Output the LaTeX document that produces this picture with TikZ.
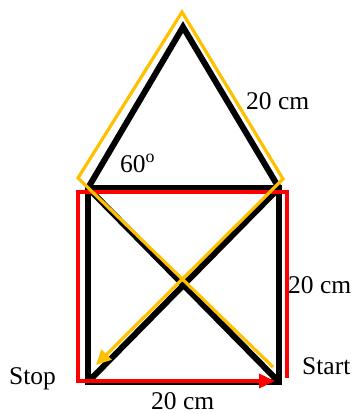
\documentclass[tikz,border=0pt]{standalone}
\usepackage{fontspec}
\setmainfont{Liberation Serif}
\usetikzlibrary{arrows.meta}
\definecolor{yellowc}{HTML}{FFC000}
\definecolor{redc}{HTML}{FF0000}
\begin{document}
\begin{tikzpicture}[x=1pt,y=-1pt,
  houseline/.style={line width=6pt, draw=black, line join=miter},
  yellowpath/.style={line width=3.2pt, draw=yellowc, line join=miter},
  redpath/.style={line width=3.5pt, draw=redc, line join=miter},
  lbl/.style={inner sep=0pt, anchor=base west, font=\fontsize{25.5}{30}\selectfont}]
\useasboundingbox (0,0) rectangle (356,414);
% black house
\coordinate (apex) at (183,27);
\coordinate (TL) at (88,188);
\coordinate (TR) at (279,188);
\coordinate (BR) at (279,382);
\coordinate (BL) at (88,382);
\draw[houseline] (TL) -- (TR) -- (BR) -- (BL) -- cycle;
\draw[houseline] (TL) -- (apex) -- (TR);
\draw[houseline] (TL) -- (BR);
\draw[houseline] (TR) -- (BL);
% red path
\coordinate (R1) at (287,378);
\coordinate (R2) at (287,192);
\coordinate (R3) at (78,192);
\coordinate (R4) at (78,381);
\coordinate (R5) at (275,381);
\draw[redpath, -{Triangle[length=16pt,width=14pt]}] (R1) -- (R2) -- (R3) -- (R4) -- (R5);
% yellow path
\coordinate (Y1) at (273,367);
\coordinate (Y2) at (78,178);
\coordinate (Y3) at (182,12);
\coordinate (Y4) at (283,179);
\coordinate (Y5) at (96,365);
\draw[yellowpath, -{Triangle[length=15pt,width=14pt]}] (Y1) -- (Y2) -- (Y3) -- (Y4) -- (Y5);
% labels
\node[lbl] (ltop) at (246,110) {20 cm};
\node[lbl] (langle) at (120,172) {60\textsuperscript{o}};
\node[lbl] (lright) at (288,293) {20 cm};
\node[lbl] (lstart) at (302,374) {Start};
\node[lbl] (lstop) at (9,384) {Stop};
\node[lbl] (lbottom) at (151,409.5) {20 cm};
\end{tikzpicture}
\end{document}
